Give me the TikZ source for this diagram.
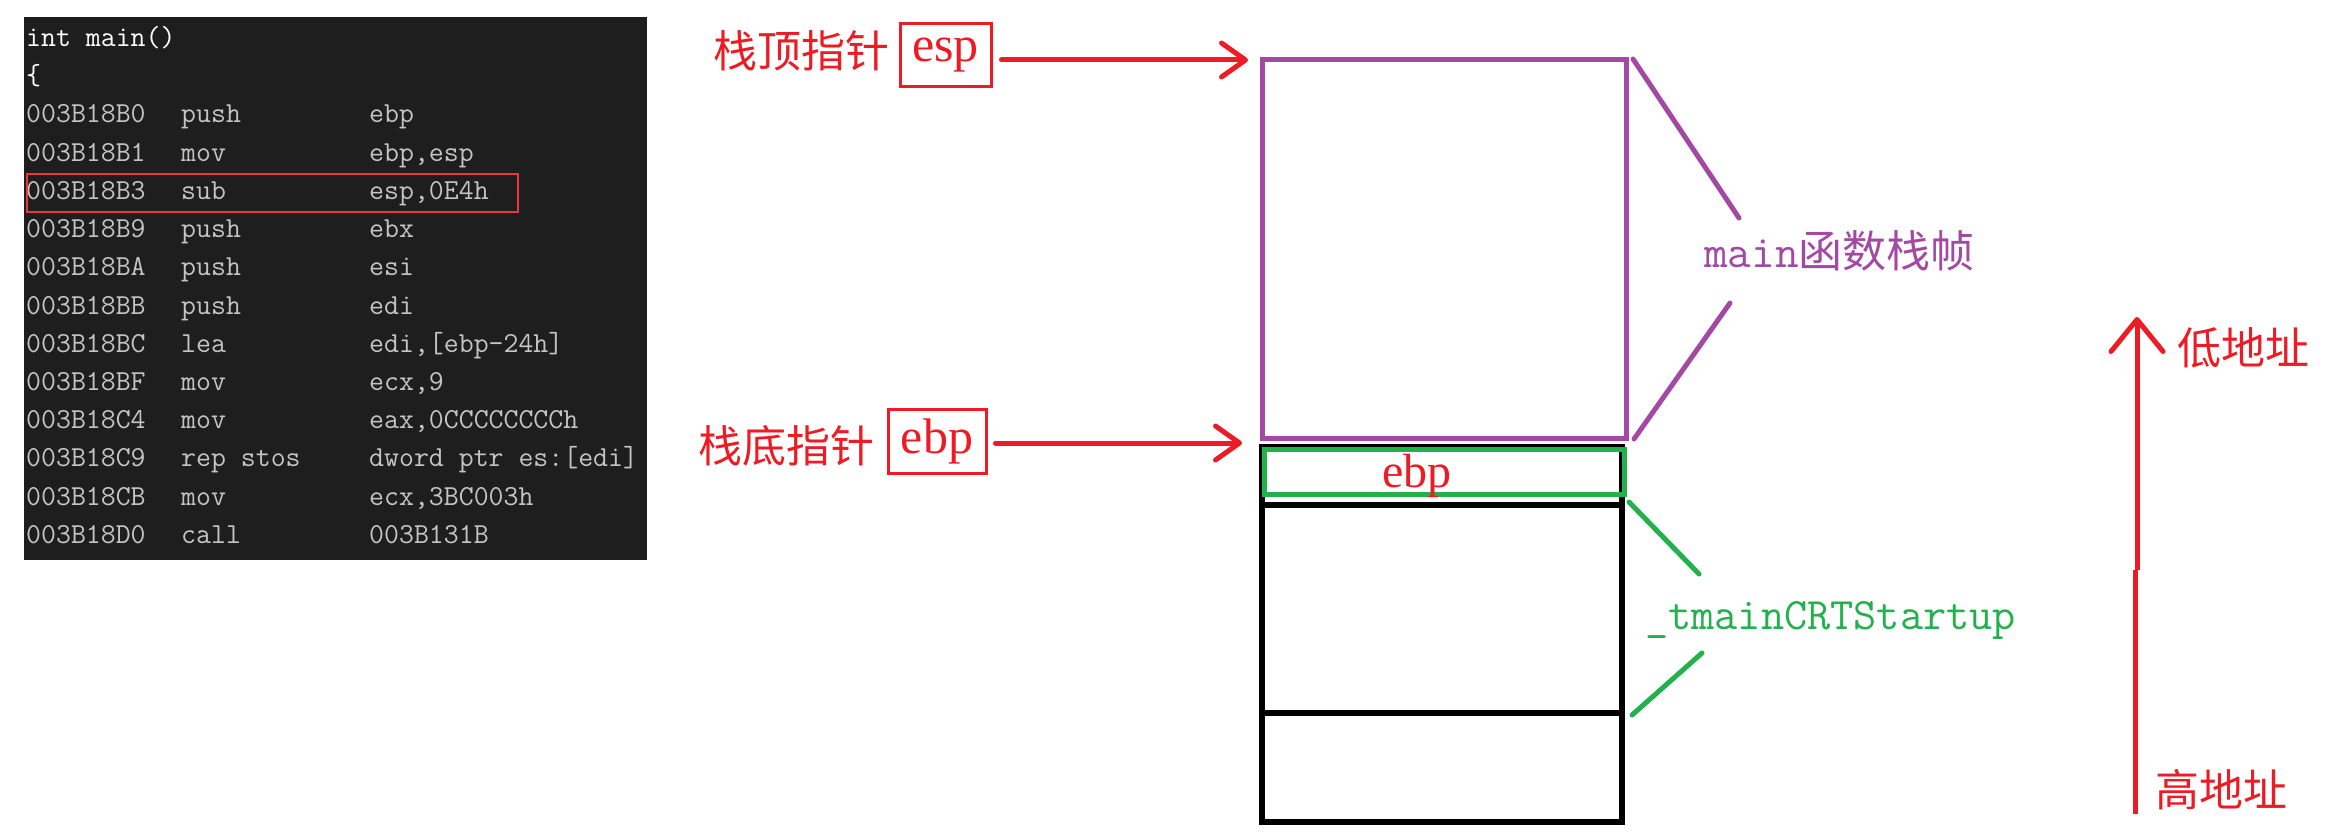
\documentclass[tikz,border=0pt]{standalone}
\usepackage{fontspec}
\newfontfamily\cjk{Noto Sans CJK SC}
\newfontfamily\serifl{Liberation Serif}
\usetikzlibrary{arrows.meta}
\definecolor{pred}{HTML}{ED1C24}
\definecolor{ppurple}{HTML}{A349A4}
\definecolor{pgreen}{HTML}{22B14C}
\definecolor{codebg}{HTML}{1E1E1E}
\definecolor{codefg}{HTML}{C4C4C4}
\definecolor{hlred}{HTML}{E8383D}
\newcommand{\codeline}[4]{%
  \node[code, anchor=base west] (a#1) at (26, {46.6+38.2*#1}) {#2};
  \node[code, anchor=base west] (m#1) at (181, {46.6+38.2*#1}) {#3};
  \node[code, anchor=base west] (o#1) at (369, {46.6+38.2*#1}) {#4};}
\begin{document}
\begin{tikzpicture}[x=1pt,y=-1pt,
  code/.style={inner sep=0pt, text=codefg, font=\ttfamily\fontsize{29}{34}\selectfont},
  codew/.style={code, text=white},
  cjklabel/.style={inner sep=0pt, text=pred, font=\cjk\fontsize{44}{50}\selectfont},
  regbox/.style={draw=pred, line width=3pt, inner sep=0pt, text=pred,
    minimum height=63pt, font=\serifl\fontsize{50}{56}\selectfont},
  redarrow/.style={draw=pred, line width=5pt, line cap=round,
    -{Straight Barb[length=24pt,width=34pt,round]}},
  uparrow/.style={draw=pred, line width=5pt,
    -{Straight Barb[length=32pt,width=52pt,round]}},
  redline/.style={draw=pred, line width=5pt},
  purpleline/.style={draw=ppurple, line width=5pt, line cap=round},
  greenline/.style={draw=pgreen, line width=5pt, line cap=round},
  blackline/.style={draw=black, line width=5.5pt}]
\useasboundingbox (0,0) rectangle (2325,832);

% ---- code panel
\fill[codebg] (24,17) rectangle (647,560);
\node[codew, anchor=base west] (l0) at (26,46.6) {int main()};
\node[codew, anchor=base west] (l1) at (26,84.8) {\{};
\codeline{2}{003B18B0}{push}{ebp}
\codeline{3}{003B18B1}{mov}{ebp,esp}
\codeline{4}{003B18B3}{sub}{esp,0E4h}
\codeline{5}{003B18B9}{push}{ebx}
\codeline{6}{003B18BA}{push}{esi}
\codeline{7}{003B18BB}{push}{edi}
\codeline{8}{003B18BC}{lea}{edi,[ebp-24h]}
\codeline{9}{003B18BF}{mov}{ecx,9}
\codeline{10}{003B18C4}{mov}{eax,0CCCCCCCCh}
\codeline{11}{003B18C9}{rep stos}{dword ptr es:[edi]}
\codeline{12}{003B18CB}{mov}{ecx,3BC003h}
\codeline{13}{003B18D0}{call}{003B131B}
\draw[hlred, line width=2pt] (27,174) rectangle (518,212);

% ---- stack
\draw[blackline] (1262,447) rectangle (1622,822);
\draw[blackline] (1262,505) -- (1622,505);
\draw[blackline] (1262,713) -- (1622,713);
\node[draw=ppurple, line width=5pt, minimum width=364pt, minimum height=378pt,
  inner sep=0pt] (mainframe) at (1444,249) {};
\node[draw=pgreen, line width=5pt, minimum width=360pt, minimum height=45pt,
  inner sep=0pt] (ebpcell) at (1444,471.5) {};
\node[inner sep=0pt, text=pred, font=\serifl\fontsize{48}{54}\selectfont,
  anchor=base] (ebptext) at (1417,487) {ebp};

% ---- pointer labels
\node[cjklabel, anchor=base west] (sptop) at (713,68) {栈顶指针};
\node[regbox, minimum width=91pt] (espbox) at (945.5,55.5) {esp};
\node[cjklabel, anchor=base west] (spbot) at (698,462) {栈底指针};
\node[regbox, minimum width=98pt, minimum height=64pt] (ebpbox) at (937,441) {ebp};
\coordinate (topptr) at (1248,60);
\coordinate (botptr) at (1242,443);
\draw[redarrow, shorten <=9pt] (espbox.east |- topptr) -- (topptr);
\draw[redarrow, shorten <=8pt] (ebpbox.east |- botptr) -- (botptr);

% ---- main frame bracket
\node[inner sep=0pt, text=ppurple, anchor=base west] (mainlabel) at (1704,267)
  {{\ttfamily\fontsize{46}{50}\selectfont main}{\cjk\fontsize{44}{50}\selectfont 函数栈帧}};
\coordinate (pm1) at (1739,218);
\coordinate (pm2) at (1730,303);
\draw[purpleline] (1633,59) -- (pm1);
\draw[purpleline] (pm2) -- (1634,439);

% ---- startup bracket
\node[inner sep=0pt, text=pgreen, anchor=base west,
  font=\ttfamily\fontsize{45}{50}\selectfont] (crtlabel) at (1645,629) {\_tmainCRTStartup};
\coordinate (pg1) at (1699,574);
\coordinate (pg2) at (1702,653);
\draw[greenline] (1629,502) -- (pg1);
\draw[greenline] (pg2) -- (1632,715);

% ---- address direction
\coordinate (hbot) at (2135,814);
\coordinate (hmid1) at (2135,570);
\coordinate (hmid2) at (2137,570);
\coordinate (htop) at (2137,317);
\draw[redline] (hbot) -- (hmid1);
\draw[uparrow] (hmid2) -- (htop);
\node[cjklabel, anchor=base west] (lowaddr) at (2177,364) {低地址};
\node[cjklabel, anchor=base west] (highaddr) at (2155,806) {高地址};
\end{tikzpicture}
\end{document}
